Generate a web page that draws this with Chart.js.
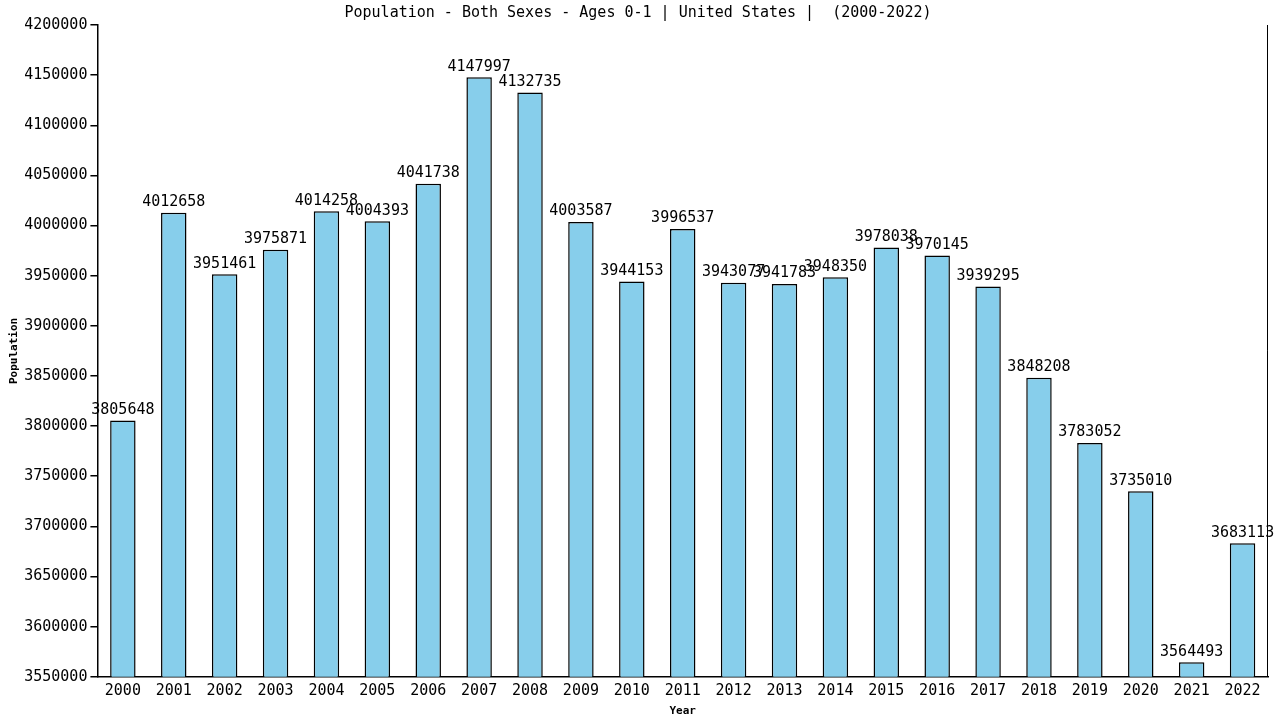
<!DOCTYPE html>
<html>
<head>
<meta charset="utf-8">
<script src="https://cdn.jsdelivr.net/npm/chart.js@4/dist/chart.umd.min.js"></script>
<style>
  html, body { margin: 0; padding: 0; background: #fff; }
  canvas { display: block; }
</style>
</head>
<body>
<canvas id="popChart" width="1280" height="720"></canvas>
<script>
// Data
const years = ['2000', '2001', '2002', '2003', '2004', '2005', '2006', '2007', '2008', '2009', '2010', '2011',
               '2012', '2013', '2014', '2015', '2016', '2017', '2018', '2019', '2020', '2021', '2022'];
const population = [3805648, 4012658, 3951461, 3975871, 4014258, 4004393, 4041738, 4147997, 4132735, 4003587,
                     3944153, 3996537, 3943077, 3941783, 3948350, 3978038, 3970145, 3939295, 3848208, 3783052,
                     3735010, 3564493, 3683113];
const yMin = 3550000;
const yMax = 4200000;
const yStep = 50000;

const FONT = "'DejaVu Sans Mono', monospace";
Chart.defaults.font.family = FONT;
Chart.defaults.color = '#000';

// Draws the value above each bar and the right-hand frame line
const valueLabels = {
    id: 'valueLabels',
    afterDatasetsDraw(chart) {
        const ctx = chart.ctx;
        const meta = chart.getDatasetMeta(0);
        ctx.save();
        ctx.font = '15px ' + FONT;
        ctx.fillStyle = '#000';
        ctx.textAlign = 'center';
        ctx.textBaseline = 'bottom';
        meta.data.forEach((bar, i) => {
            ctx.fillText(String(population[i]), bar.x, bar.y - 3);
        });
        const area = chart.chartArea;
        ctx.strokeStyle = '#000';
        ctx.lineWidth = 1;
        ctx.beginPath();
        ctx.moveTo(Math.round(area.right) - 0.5, area.top);
        ctx.lineTo(Math.round(area.right) - 0.5, area.bottom);
        ctx.stroke();
        ctx.restore();
    }
};

const ctx = document.getElementById('popChart').getContext('2d');
new Chart(ctx, {
    type: 'bar',
    data: {
        labels: years,
        datasets: [{
            label: 'Population',
            data: population,
            backgroundColor: '#87ceeb',
            borderColor: '#000',
            borderWidth: 1.5,
            borderSkipped: 'bottom',
            barPercentage: 0.5,
            categoryPercentage: 1.0
        }]
    },
    options: {
        responsive: false,
        animation: false,
        devicePixelRatio: 1,
        layout: { padding: { top: 0, right: 12, bottom: 2, left: 8 } },
        plugins: {
            legend: { display: false },
            tooltip: { enabled: false },
            title: {
                display: true,
                text: 'Population - Both Sexes - Ages 0-1 | United States |  (2000-2022)',
                font: { size: 15, weight: 'normal' },
                color: '#000',
                padding: { top: 4, bottom: 3 }
            }
        },
        scales: {
            x: {
                grid: { display: false, drawTicks: false },
                border: { display: true, color: '#000', width: 1.5 },
                ticks: { font: { size: 15 }, color: '#000', padding: 5, maxRotation: 0 },
                title: {
                    display: true,
                    text: 'Year',
                    font: { size: 11, weight: 'bold' },
                    color: '#000',
                    padding: { top: 0, bottom: 0 }
                }
            },
            y: {
                min: yMin,
                max: yMax,
                grid: { drawOnChartArea: false, drawTicks: true, tickLength: 7, color: '#000', lineWidth: 1.5 },
                border: { display: true, color: '#000', width: 1.5 },
                ticks: {
                    stepSize: yStep,
                    font: { size: 15 },
                    color: '#000',
                    padding: 3,
                    callback: (value) => String(value)
                },
                title: {
                    display: true,
                    text: 'Population',
                    font: { size: 11, weight: 'bold' },
                    color: '#000',
                    padding: { top: 0, bottom: 0 }
                }
            }
        }
    },
    plugins: [valueLabels]
});
</script>
</body>
</html>
